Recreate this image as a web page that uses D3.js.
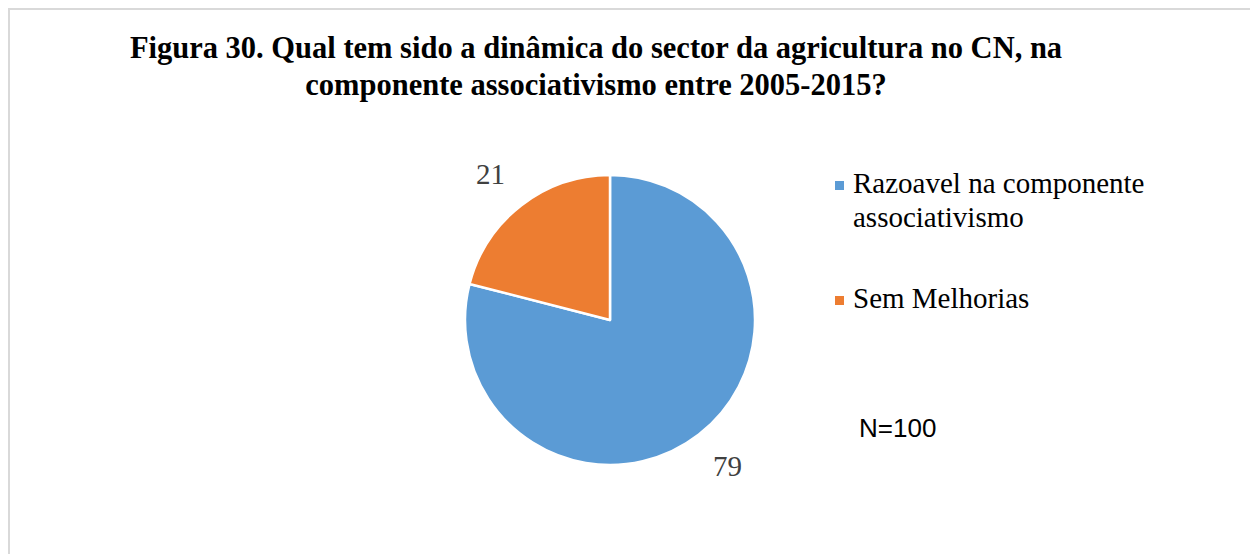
<!DOCTYPE html>
<html>
<head>
<meta charset="utf-8">
<script src="https://cdn.jsdelivr.net/npm/d3@7"></script>
<style>
  body { margin: 0; background: #fff; }
  svg { display: block; }
</style>
</head>
<body>
<svg width="1250" height="554"></svg>
<script>
const width = 1250, height = 554;
const svg = d3.select("svg");

// chart data
const categories = ["Razoavel na componente associativismo", "Sem Melhorias"];
const legendLines = [["Razoavel na componente", "associativismo"], ["Sem Melhorias"]];
const values = [79, 21];
const colors = ["#5B9BD5", "#ED7D31"];
const titleLines = [
    "Figura 30. Qual tem sido a dinâmica do sector da agricultura no CN, na",
    "componente associativismo entre 2005-2015?"
];
const note = "N=100";

const cx = 610, cy = 320, radius = 145;

// chart border (runs off the right and bottom edge)
svg.append("rect")
    .attr("x", 9).attr("y", 9)
    .attr("width", width + 20).attr("height", height + 20)
    .attr("fill", "none").attr("stroke", "#d9d9d9").attr("stroke-width", 2);

// title
svg.append("text")
    .attr("text-anchor", "middle")
    .style("font-family", "'Liberation Serif', 'Times New Roman', serif")
    .style("font-weight", "bold")
    .style("font-size", "30.5px")
    .selectAll("tspan").data(titleLines).enter().append("tspan")
    .attr("x", 596)
    .attr("y", (d, i) => 58 + i * 37)
    .text(d => d);

// pie
const pie = d3.pie().sort(null).value(d => d);
const arcs = pie(values);
const arc = d3.arc().innerRadius(0).outerRadius(radius);
const labelArc = d3.arc().innerRadius(radius + 40).outerRadius(radius + 40);

const g = svg.append("g").attr("transform", `translate(${cx},${cy})`);

g.selectAll("path").data(arcs).enter().append("path")
    .attr("d", arc)
    .attr("fill", (d, i) => colors[i])
    .attr("stroke", "#fff")
    .attr("stroke-width", 2.5)
    .attr("stroke-linejoin", "round");

g.selectAll("text.lbl").data(arcs).enter().append("text")
    .attr("class", "lbl")
    .attr("transform", (d, i) => {
        const [x, y] = labelArc.centroid(d);
        return `translate(${x + (i === 0 ? 4 : -6)},${y})`;
    })
    .attr("text-anchor", "middle")
    .attr("dy", "0.35em")
    .style("font-family", "'Liberation Serif', 'Times New Roman', serif")
    .style("font-size", "29px")
    .style("fill", "#404040")
    .text(d => d.data);

// legend
const legendY = [193, 308];
const legend = svg.selectAll(".legend").data(categories).enter().append("g")
    .attr("class", "legend")
    .attr("transform", (d, i) => `translate(835,${legendY[i]})`);

legend.append("rect")
    .attr("x", 0).attr("y", -12)
    .attr("width", 9).attr("height", 9)
    .attr("fill", (d, i) => colors[i]);

legend.append("text")
    .style("font-family", "'Liberation Serif', 'Times New Roman', serif")
    .style("font-size", "29px")
    .style("fill", "#000")
    .selectAll("tspan").data((d, i) => legendLines[i]).enter().append("tspan")
    .attr("x", 18)
    .attr("y", (d, j) => j * 34)
    .text(d => d);

// sample size note
svg.append("text")
    .attr("x", 859).attr("y", 437)
    .style("font-family", "'Liberation Sans', Arial, sans-serif")
    .style("font-size", "26px")
    .style("fill", "#000")
    .text(note);
</script>
</body>
</html>
